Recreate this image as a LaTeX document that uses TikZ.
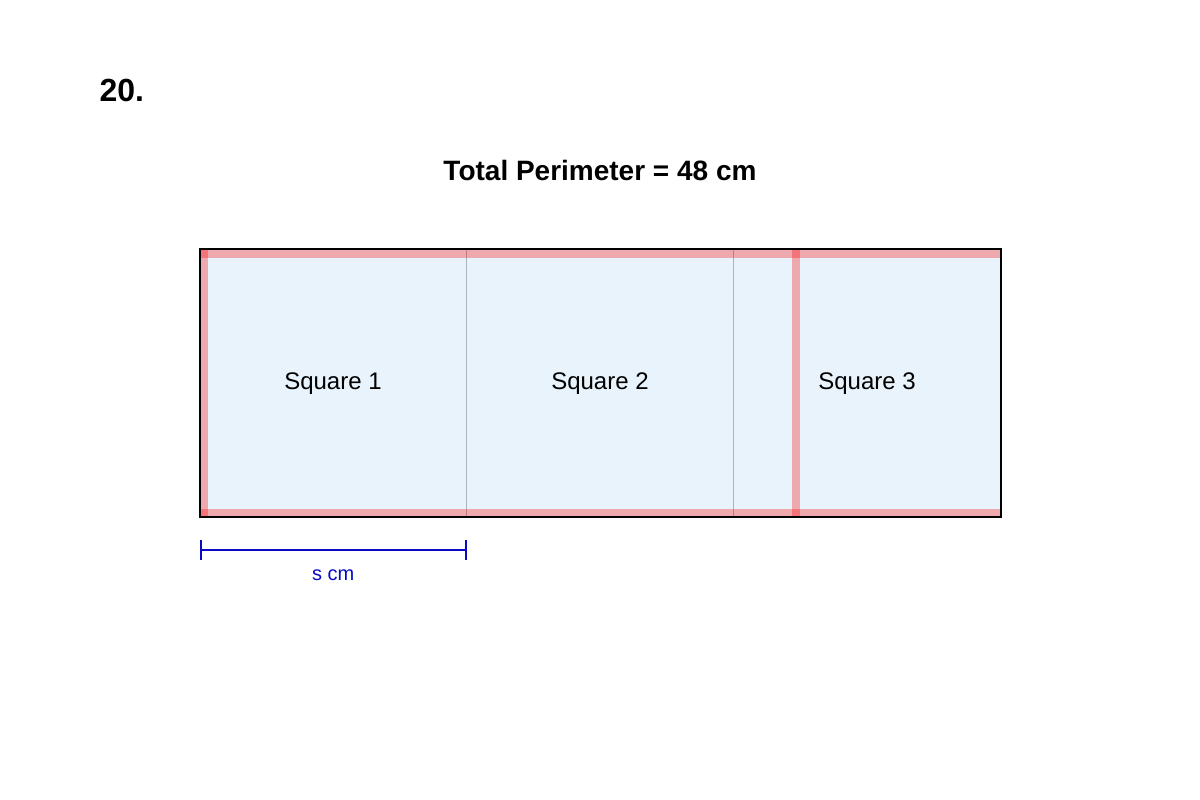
\documentclass[tikz,border=0pt]{standalone}
\usepackage{fontspec}
\setmainfont{Liberation Sans}
\usetikzlibrary{calc,arrows.meta}
\definecolor{sqfill}{HTML}{E8F3FC}
\definecolor{divgrey}{HTML}{A8B4BE}
\definecolor{dimblue}{HTML}{0A0AC4}
\begin{document}
\begin{tikzpicture}[x=1pt, y=-1pt,
square/.style={draw=divgrey, line width=0.8pt, fill=sqfill, inner sep=0pt, outer sep=0pt,
    minimum width=267pt, minimum height=268pt, text height=17pt, text depth=5pt,
    font=\fontsize{24}{28}\selectfont},
band/.style={draw=red, opacity=0.3, line width=8pt},
dimline/.style={draw=dimblue, line width=2pt, {Bar[width=20pt]}-{Bar[width=20pt]}},
scale=1.0]
\useasboundingbox (0,0) rectangle (1200,800);
\node[anchor=base west, font=\fontsize{32}{36}\selectfont\bfseries] (num) at (96,101) {20.};
\node[anchor=base, font=\fontsize{28}{32}\selectfont\bfseries] (title) at (600,180) {Total Perimeter = 48 cm};
% the three squares
\node[square] (s1) at (333,383) {Square 1};
\node[square] (s2) at (600,383) {Square 2};
\node[square] (s3) at (867,383) {Square 3};
% highlighted edges
\draw[band] ($(s1.north west)+(0.5,5)$) -- ($(s3.north east)+(-0.5,5)$);
\draw[band] ($(s1.south west)+(0.5,-4)$) -- ($(s3.south east)+(-0.5,-4)$);
\draw[band] ($(s1.north west)+(4.5,1)$) -- ($(s1.south west)+(4.5,-1)$);
\draw[band] ($(s3.north west)+(62.5,1)$) -- ($(s3.south west)+(62.5,-1)$);
\draw[line width=2pt] (s1.north west) rectangle (s3.south east);
% side length
\coordinate (dA) at ($(s1.south west)+(0.5,33)$);
\coordinate (dB) at ($(s1.south east)+(0,33)$);
\draw[dimline] (dA) -- (dB);
\node[anchor=base, text=dimblue, font=\fontsize{20}{24}\selectfont] (slabel) at ($(dA)!0.5!(dB)+(0,30)$) {s cm};
\end{tikzpicture}
\end{document}
